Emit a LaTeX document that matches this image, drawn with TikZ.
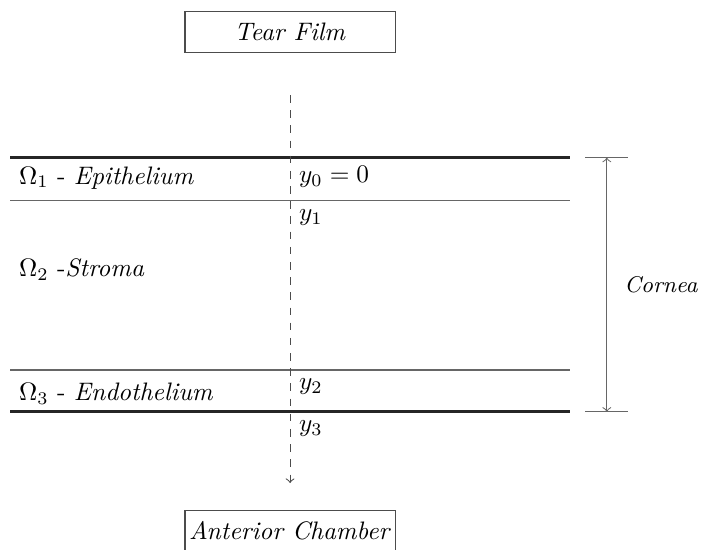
\documentclass[tikz,border=0pt]{standalone}
\begin{document}
\begin{tikzpicture}
    \useasboundingbox (0,0) rectangle (9.78,-7.64);
    % boundary media
    \node[draw=black!70, minimum width=2.92cm, minimum height=0.57cm, inner xsep=1pt] (TF) at (4.03,-0.44) {\textit{Tear Film}};
    \node[draw=black!70, minimum width=2.92cm, minimum height=0.57cm, inner xsep=1pt] (AC) at (4.03,-7.37) {\textit{Anterior Chamber}};
    % interfaces between the layers
    \coordinate (y0) at (4.03,-2.19);
    \coordinate (y1) at (4.03,-2.79);
    \coordinate (y2) at (4.03,-5.14);
    \coordinate (y3) at (4.03,-5.72);
    \draw[very thick, black!85] (0.14,-2.19) -- (7.92,-2.19);
    \draw[black!60] (0.14,-2.79) -- (7.92,-2.79);
    \draw[black!60] (0.14,-5.14) -- (7.92,-5.14);
    \draw[very thick, black!85] (0.14,-5.72) -- (7.92,-5.72);
    % depth axis
    \coordinate (top) at (4.03,-1.32);
    \coordinate (bot) at (4.03,-6.71);
    \draw[dashed, black!70, ->] (top) -- (bot);
    \node[anchor=north west] at (y0) {$y_0 = 0$};
    \node[anchor=north west] at (y1) {$y_1$};
    \node[anchor=north west] at (y2) {$y_2$};
    \node[anchor=north west] at (y3) {$y_3$};
    % layer names
    \node[anchor=west] (E1) at (0.14,-2.47) {$\Omega_1$ - \textit{Epithelium}};
    \node[anchor=west] (S2) at (0.14,-3.75) {$\Omega_2$ -\textit{Stroma}};
    \node[anchor=west] (E3) at (0.14,-5.47) {$\Omega_3$ - \textit{Endothelium}};
    % thickness of the cornea
    \coordinate (ct) at (8.43,-2.19);
    \coordinate (cb) at (8.43,-5.72);
    \draw[black!60] (8.13,-2.19) -- (8.72,-2.19);
    \draw[black!60] (8.13,-5.72) -- (8.72,-5.72);
    \draw[black!60, <->] (ct) -- (cb) node[midway, right=0.12cm, black] (C) {\small\textit{Cornea}};
\end{tikzpicture}
\end{document}
